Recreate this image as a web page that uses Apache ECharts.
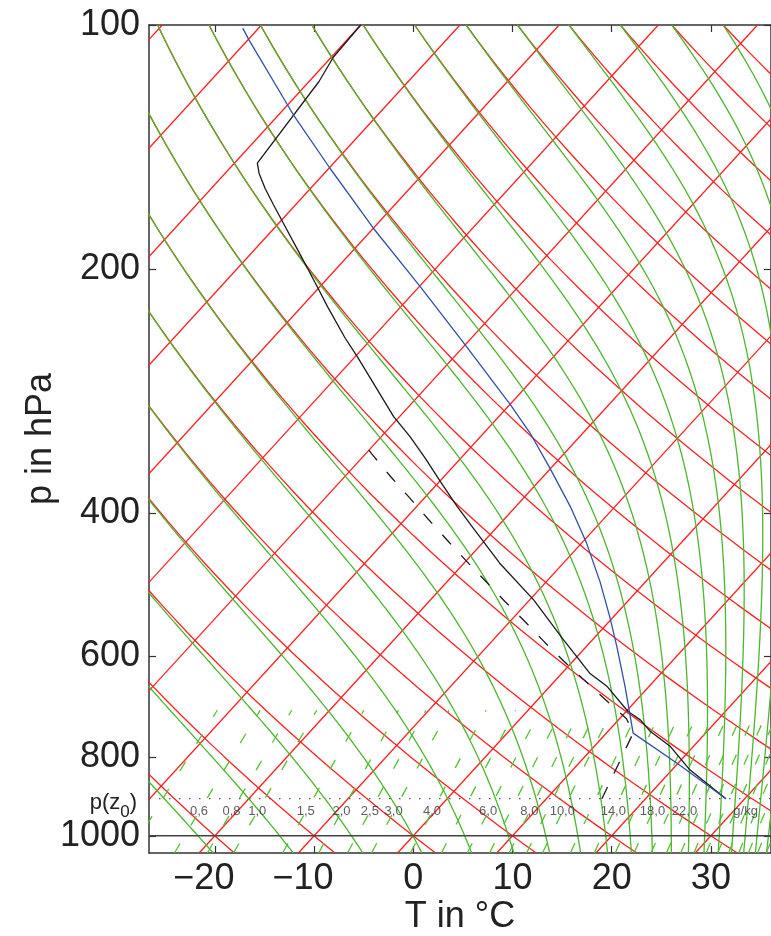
<!DOCTYPE html>
<html>
<head>
<meta charset="utf-8">
<script src="https://cdn.jsdelivr.net/npm/echarts@6.0.0/dist/echarts.min.js"></script>
<style>
  html, body { margin: 0; padding: 0; background: #fff; }
  #chart { width: 771px; height: 936px; }
</style>
</head>
<body>
<div id="chart"></div>
<script>
// Achsenbereich (x = schiefe Temperaturkoordinate, y = log p)
const T_MIN = -26.64, T_MAX = 36.06;
const P_TOP = 100, P_BOTTOM = 1050;
const SKEW = 74.7;           // °C pro Dekade Druck
const tempTicks = [-20, -10, 0, 10, 20, 30];
const pressureTicks = [100, 200, 400, 600, 800, 1000];
const pZ0 = 900;

// Hintergrundlinien
const isotherms = [-100, -90, -80, -70, -60, -50, -40, -30, -20, -10, 0, 10, 20, 30, 40];
const dryAdiabats = [-30, -20, -10, 0, 10, 20, 30, 40, 50, 60, 70, 80, 90, 100, 110, 120, 130, 140, 150, 160, 170, 180]; // theta in °C
const moistAdiabats = [-20, -10, 0, 10, 20, 30, 40, 50, 60, 70, 80, 90, 100, 110, 120, 130, 140, 150, 160, 170, 180, 190, 200, 210]; // theta oben (100 hPa) in °C
const mixingRatios = [0.4, 0.6, 0.8, 1, 1.5, 2, 2.5, 3, 4, 5, 6, 7, 8, 9, 10, 12, 14, 16, 18, 20, 22, 24, 26, 28, 30, 32, 34, 36, 38, 40];
const mixingLabels = [0.6, 0.8, 1, 1.5, 2, 2.5, 3, 4, 6, 8, 10, 14, 18, 22];
const unitLabelRatio = 32;
const labelPressure = 934;
const mixingTop = 700;

// Temperaturprofil (schwarz)
const envP = [100, 109.5, 117.4, 148, 152.3, 159, 166.7, 174, 192.1, 200.5, 212.2, 222.5, 243.4, 256.4, 281.8, 304.1, 321.9, 342.1, 365.7, 392.6, 417.4, 461.1, 511.7, 573.3, 630.1, 654.5, 702.6, 719.4, 743.7, 776.1, 829.1, 900];
const envT = [-80.0, -79.8, -79.0, -77.7, -76.6, -74.6, -72.2, -70.0, -64.9, -62.7, -59.8, -57.4, -52.7, -49.8, -44.7, -40.6, -37.1, -33.6, -29.9, -25.9, -22.3, -16.4, -9.6, -2.9, 2.8, 5.8, 10.2, 12.2, 14.3, 17.7, 21.8, 28.1];

// Zustandskurve (blau)
const parcelP = [100.9, 104.3, 125.5, 129.1, 150.2, 178.1, 210.2, 248, 294.1, 318.8, 352, 392.6, 435.5, 485.8, 536.5, 584.5, 654.5, 747, 813.6, 900];
const parcelT = [-91.6, -89.9, -80.0, -78.5, -69.9, -60.0, -49.9, -40.0, -29.9, -25.3, -20.1, -14.5, -9.5, -4.6, -0.4, 3.1, 7.6, 12.7, 19.9, 28.1];

// gestrichelte Kurve
const dewP = [900, 747, 717, 680, 644, 610, 577, 544, 514, 485, 458, 432, 407, 383, 361, 339, 334];
const dewT = [15.6, 12.7, 10.7, 6.9, 3.05, -0.8, -4.6, -8.5, -12.35, -16.2, -20.0, -23.8, -27.65, -31.5, -35.3, -39.2, -40.1];

const FONT = 'Liberation Sans, Arial, Helvetica, sans-serif';
const RD = 287.04, CP = 1005.7, LV = 2.501e6, EPS = 0.622;
const KAPPA = RD / CP;

function toXY(tc, p) {
  return [tc + SKEW * Math.log10(1000 / p), Math.log10(p)];
}

function satVap(tk) {
  const t = tk - 273.15;
  return 6.112 * Math.exp(17.67 * t / (t + 243.5));
}
function satMix(tk, p) {
  const e = satVap(tk);
  return EPS * e / (p - e);
}
function lapse(tk, p) {
  const r = satMix(tk, p);
  return (RD * tk + LV * r) / (p * (CP + LV * LV * r * EPS / (RD * tk * tk)));
}

function pressureSteps(p0, p1, n) {
  const out = [];
  const a = Math.log(p0), b = Math.log(p1);
  for (let i = 0; i <= n; i++) out.push(Math.exp(a + (b - a) * i / n));
  return out;
}

function isothermLine(tc) {
  return [toXY(tc, P_BOTTOM), toXY(tc, P_TOP)];
}

function dryLine(thetaC) {
  const th = thetaC + 273.15;
  return pressureSteps(P_BOTTOM, P_TOP, 60).map(p => toXY(th * Math.pow(p / 1000, KAPPA) - 273.15, p));
}

// Feuchtadiabate: von 100 hPa (dort trockenadiabatisch) nach unten integriert
function moistLine(thetaC) {
  let t = (thetaC + 273.15) * Math.pow(P_TOP / 1000, KAPPA);
  let p = P_TOP;
  const h = 5;
  const pts = [toXY(t - 273.15, p)];
  while (p < P_BOTTOM - 1e-6) {
    const k1 = lapse(t, p);
    const k2 = lapse(t + h * k1 / 2, p + h / 2);
    const k3 = lapse(t + h * k2 / 2, p + h / 2);
    const k4 = lapse(t + h * k3, p + h);
    t += h * (k1 + 2 * k2 + 2 * k3 + k4) / 6;
    p += h;
    pts.push(toXY(t - 273.15, p));
  }
  return pts;
}

function mixingTemp(w, p) {
  const e = w * p / (622 + w);
  const l = Math.log(e / 6.112);
  return 243.5 * l / (17.67 - l);
}
function mixingLine(w) {
  return pressureSteps(P_BOTTOM, mixingTop, 30).map(p => toXY(mixingTemp(w, p), p));
}

function lineSeries(data, color, width, type, z) {
  return {
    type: 'line', data: data, symbol: 'none', silent: true, animation: false,
    clip: true, z: z,
    lineStyle: { color: color, width: width, type: type || 'solid' }
  };
}

const series = [];
isotherms.forEach(t => series.push(lineSeries(isothermLine(t), '#ff2020', 1.3, 'solid', 1)));
dryAdiabats.forEach(t => series.push(lineSeries(dryLine(t), '#ff2020', 1.3, 'solid', 1)));
moistAdiabats.forEach(t => series.push(lineSeries(moistLine(t), '#4db52e', 1.3, 'solid', 2)));
mixingRatios.forEach(w => series.push(lineSeries(mixingLine(w), '#55c032', 1.3, [11, 21], 2)));

// p(z0) und 1000 hPa
series.push(lineSeries([[T_MIN, Math.log10(pZ0)], [T_MAX, Math.log10(pZ0)]], '#555', 1.3, [1.5, 8.5], 3));
series.push(lineSeries([[T_MIN, Math.log10(1000)], [T_MAX, Math.log10(1000)]], '#444', 1.4, 'solid', 3));

// Profile
series.push(lineSeries(envP.map((p, i) => toXY(envT[i], p)), '#1a1a1a', 1.3, 'solid', 5));
series.push(lineSeries(parcelP.map((p, i) => toXY(parcelT[i], p)), '#3050a8', 1.3, 'solid', 5));
series.push(lineSeries(dewP.map((p, i) => toXY(dewT[i], p)), '#1a1a1a', 1.3, [13, 15], 5));

// Beschriftung der Mischungsverhältnislinien
const labelData = mixingLabels.map(w => ({
  value: toXY(mixingTemp(w, labelPressure), labelPressure),
  name: w.toFixed(1).replace('.', ',')
}));
labelData.push({ value: toXY(mixingTemp(unitLabelRatio, labelPressure), labelPressure), name: 'g/kg' });
series.push({
  type: 'scatter', data: labelData, symbolSize: 0, silent: true, animation: false, z: 6,
  label: {
    show: true, position: 'inside', formatter: p => p.name,
    fontSize: 13, fontFamily: FONT, color: '#333'
  },
  labelLayout: { hideOverlap: false }
});

const minusLabel = v => (v < 0 ? '{n|\u2212' + (-v) + '}' : String(v));
const logTicks = pressureTicks.map(p => Math.log10(p));

const axisLineStyle = { color: '#333', width: 1.5 };
const tickStyle = { show: true, inside: true, length: 7, lineStyle: { color: '#333', width: 1.2 } };

const chart = echarts.init(document.getElementById('chart'), null, { renderer: 'canvas' });
chart.setOption({
  backgroundColor: '#fff',
  animation: false,
  textStyle: { fontFamily: FONT },
  grid: { left: 149, top: 25, right: 0, bottom: 83, outerBoundsMode: 'none' },
  xAxis: [{
    type: 'value', position: 'bottom', min: T_MIN, max: T_MAX,
    axisLine: { show: true, onZero: false, lineStyle: axisLineStyle },
    axisTick: Object.assign({ customValues: tempTicks }, tickStyle),
    axisLabel: {
      customValues: tempTicks, formatter: minusLabel, fontSize: 36, color: '#222', margin: 8,
      fontFamily: FONT, hideOverlap: false,
      rich: { n: { fontSize: 36, color: '#222', fontFamily: FONT, padding: [0, 22, 0, 0] } }
    },
    splitLine: { show: false },
    name: 'T in °C', nameLocation: 'middle', nameGap: 46, nameMoveOverlap: false,
    nameTextStyle: { fontSize: 36, color: '#222', fontFamily: FONT }
  }, {
    type: 'value', position: 'top', min: T_MIN, max: T_MAX,
    axisLine: { show: true, onZero: false, lineStyle: axisLineStyle },
    axisTick: Object.assign({ customValues: tempTicks }, tickStyle),
    axisLabel: { show: false },
    splitLine: { show: false }
  }],
  yAxis: [{
    type: 'value', position: 'left', inverse: true,
    min: Math.log10(P_TOP), max: Math.log10(P_BOTTOM),
    axisLine: { show: true, onZero: false, lineStyle: axisLineStyle },
    axisTick: Object.assign({ customValues: logTicks }, tickStyle),
    axisLabel: {
      customValues: logTicks, margin: 9, fontSize: 36, color: '#222', fontFamily: FONT,
      hideOverlap: false,
      formatter: v => String(Math.round(Math.pow(10, v)))
    },
    splitLine: { show: false },
    name: 'p in hPa', nameLocation: 'middle', nameGap: 90, nameMoveOverlap: false,
    nameTextStyle: { fontSize: 36, color: '#222', fontFamily: FONT }
  }, {
    type: 'value', position: 'right', inverse: true,
    min: Math.log10(P_TOP), max: Math.log10(P_BOTTOM),
    axisLine: { show: true, onZero: false, lineStyle: axisLineStyle },
    axisTick: Object.assign({ customValues: logTicks }, tickStyle),
    axisLabel: { show: false },
    splitLine: { show: false }
  }],
  series: series
});

// Beschriftung p(z0) an der linken Achse (Index tiefgestellt)
const zx = chart.convertToPixel({ xAxisIndex: 0 }, T_MIN);
const zy = chart.convertToPixel({ yAxisIndex: 0 }, Math.log10(pZ0));
const ctx = document.createElement('canvas').getContext('2d');
function textWidth(s, size) { ctx.font = size + 'px ' + FONT; return ctx.measureText(s).width; }
const MAIN = 22, SUB = 17;
const right = zx - 12;
const wParen = textWidth(')', MAIN);
const wSub = textWidth('0', SUB);
function txt(s, size, x, y) {
  return {
    type: 'text', silent: true, z: 10, x: x, y: y,
    style: { text: s, fontSize: size, fontFamily: FONT, fill: '#222', align: 'right', verticalAlign: 'middle' }
  };
}
chart.setOption({
  graphic: [
    txt(')', MAIN, right, zy + 4),
    txt('0', SUB, right - wParen, zy + 14),
    txt('p(z', MAIN, right - wParen - wSub, zy + 4)
  ]
});
</script>
</body>
</html>
